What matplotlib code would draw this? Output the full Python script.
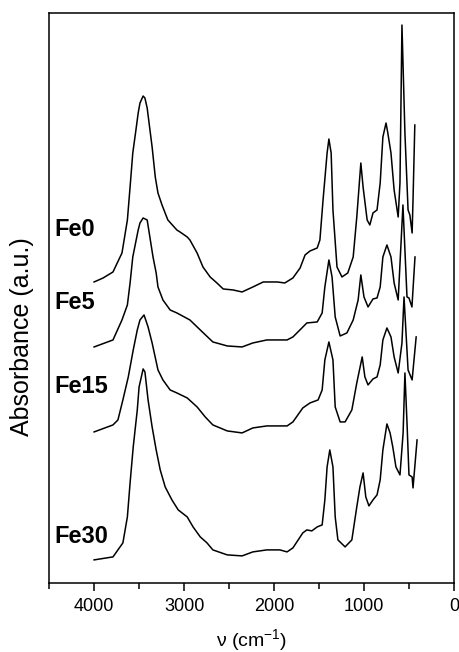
import matplotlib
matplotlib.use("Agg")
import matplotlib.pyplot as plt
from matplotlib.ticker import MultipleLocator

plt.rcParams['font.family'] = ['Liberation Sans', 'DejaVu Sans']
plt.rcParams['mathtext.fontset'] = 'custom'
plt.rcParams['mathtext.rm'] = 'Liberation Sans'
plt.rcParams['mathtext.it'] = 'Liberation Sans'

# IR spectra (wavenumber in cm-1, absorbance in a.u.)
fe0_wn = [4000, 3900, 3790, 3690, 3630, 3600, 3570, 3535, 3510, 3490,
          3455, 3435, 3410, 3355, 3320, 3290, 3245, 3180, 3080, 3045,
          2965, 2935, 2855, 2790, 2710, 2635, 2565, 2455, 2355, 2235,
          2120, 1965, 1880, 1790, 1710, 1655, 1600, 1520, 1490, 1455,
          1410, 1390, 1365, 1345, 1300, 1245, 1180, 1120, 1080, 1035,
          1010, 965, 935, 900, 855, 820, 790, 755, 735, 700,
          665, 620, 600, 578, 545, 510, 490, 465, 455, 435]
fe0_abs = [3.01, 3.05, 3.11, 3.30, 3.63, 3.96, 4.30, 4.53, 4.70, 4.80,
           4.87, 4.85, 4.75, 4.36, 4.06, 3.90, 3.78, 3.63, 3.53, 3.51,
           3.46, 3.43, 3.30, 3.16, 3.06, 3.00, 2.94, 2.93, 2.91, 2.96,
           3.01, 3.01, 3.00, 3.05, 3.15, 3.28, 3.32, 3.35, 3.43, 3.83,
           4.30, 4.44, 4.30, 3.73, 3.16, 3.06, 3.10, 3.26, 3.66, 4.20,
           3.96, 3.63, 3.58, 3.70, 3.73, 4.00, 4.46, 4.60, 4.50, 4.30,
           3.93, 3.66, 4.00, 5.58, 4.50, 3.73, 3.68, 3.50, 3.83, 4.58]

fe5_wn = [4000, 3790, 3690, 3630, 3600, 3570, 3510, 3490, 3455, 3410,
          3345, 3310, 3290, 3235, 3155, 3080, 2935, 2820, 2680, 2520,
          2355, 2235, 2080, 1935, 1855, 1790, 1690, 1635, 1520, 1465,
          1435, 1390, 1355, 1320, 1265, 1190, 1120, 1065, 1035, 1000,
          955, 900, 855, 820, 790, 745, 700, 665, 620, 567,
          522, 500, 467, 433]
fe5_abs = [2.36, 2.43, 2.63, 2.78, 3.00, 3.26, 3.53, 3.60, 3.65, 3.63,
           3.26, 3.10, 2.96, 2.83, 2.73, 2.70, 2.63, 2.53, 2.41, 2.37,
           2.36, 2.40, 2.43, 2.43, 2.43, 2.46, 2.55, 2.60, 2.61, 2.70,
           2.96, 3.23, 3.06, 2.66, 2.47, 2.50, 2.63, 2.83, 3.08, 2.86,
           2.76, 2.84, 2.85, 2.96, 3.26, 3.38, 3.26, 3.00, 2.83, 3.78,
           2.86, 2.85, 2.76, 3.26]

fe15_wn = [4000, 3790, 3735, 3680, 3620, 3565, 3520, 3490, 3445, 3400,
           3355, 3290, 3235, 3155, 3080, 2965, 2855, 2765, 2680, 2520,
           2355, 2235, 2080, 1935, 1855, 1790, 1680, 1600, 1510, 1465,
           1435, 1390, 1345, 1320, 1265, 1210, 1135, 1080, 1020, 990,
           955, 900, 855, 820, 790, 745, 700, 665, 620, 578,
           555, 510, 465, 420]
fe15_abs = [1.51, 1.58, 1.63, 1.83, 2.06, 2.33, 2.53, 2.63, 2.68, 2.56,
            2.40, 2.13, 2.03, 1.93, 1.90, 1.85, 1.76, 1.66, 1.58, 1.52,
            1.50, 1.55, 1.57, 1.57, 1.57, 1.61, 1.75, 1.80, 1.83, 1.93,
            2.23, 2.41, 2.23, 1.76, 1.61, 1.61, 1.73, 2.00, 2.26, 2.06,
            1.98, 2.04, 2.06, 2.18, 2.43, 2.55, 2.46, 2.26, 2.10, 2.40,
            2.86, 2.13, 2.03, 2.46]

fe30_wn = [4000, 3790, 3735, 3680, 3630, 3600, 3565, 3520, 3500, 3455,
           3435, 3400, 3355, 3310, 3265, 3210, 3135, 3065, 2965, 2900,
           2820, 2745, 2680, 2520, 2355, 2235, 2080, 1935, 1855, 1790,
           1680, 1635, 1580, 1520, 1465, 1435, 1410, 1380, 1345, 1320,
           1290, 1210, 1135, 1080, 1045, 1010, 980, 945, 900, 855,
           820, 790, 745, 710, 680, 645, 600, 565, 545, 520,
           500, 465, 455, 410]
fe30_abs = [0.23, 0.26, 0.33, 0.40, 0.66, 1.00, 1.36, 1.73, 1.96, 2.14,
            2.11, 1.83, 1.56, 1.33, 1.13, 0.96, 0.83, 0.73, 0.66, 0.56,
            0.46, 0.40, 0.33, 0.28, 0.27, 0.31, 0.33, 0.33, 0.31, 0.35,
            0.50, 0.53, 0.52, 0.56, 0.58, 0.83, 1.16, 1.33, 1.16, 0.66,
            0.43, 0.36, 0.43, 0.76, 0.96, 1.10, 0.86, 0.77, 0.83, 0.88,
            1.03, 1.33, 1.59, 1.50, 1.36, 1.16, 1.08, 1.50, 2.10, 1.56,
            1.08, 1.06, 0.95, 1.43]

labels = ["Fe0", "Fe5", "Fe15", "Fe30"]
label_y = [3.53, 2.80, 1.96, 0.46]

fig = plt.figure(figsize=(4.59, 6.52), dpi=100)
ax = fig.add_axes([0.107, 0.106, 0.882, 0.874])

for wn, a in [(fe0_wn, fe0_abs), (fe5_wn, fe5_abs), (fe15_wn, fe15_abs), (fe30_wn, fe30_abs)]:
    ax.plot(wn, a, color="black", linewidth=1.1)

for lab, y in zip(labels, label_y):
    ax.text(4440, y, lab, fontsize=17, fontweight="bold", ha="left", va="center")

ax.set_xlim(4500, 0)
ax.set_ylim(0, 5.70)
ax.xaxis.set_major_locator(MultipleLocator(1000))
ax.xaxis.set_minor_locator(MultipleLocator(500))
ax.set_yticks([])
ax.tick_params(axis="x", which="major", direction="out", length=6, width=1.1, labelsize=13, pad=5)
ax.tick_params(axis="x", which="minor", direction="out", length=4, width=1.1)
for s in ax.spines.values():
    s.set_linewidth(1.1)

ax.set_xlabel(r"ν (cm$^{-1}$)", fontsize=14)
ax.xaxis.set_label_coords(0.5, -0.078)
ax.set_ylabel("Absorbance (a.u.)", fontsize=18, va="center")
ax.yaxis.set_label_coords(-0.067, 0.433)

fig.savefig("out.png", dpi=100)
